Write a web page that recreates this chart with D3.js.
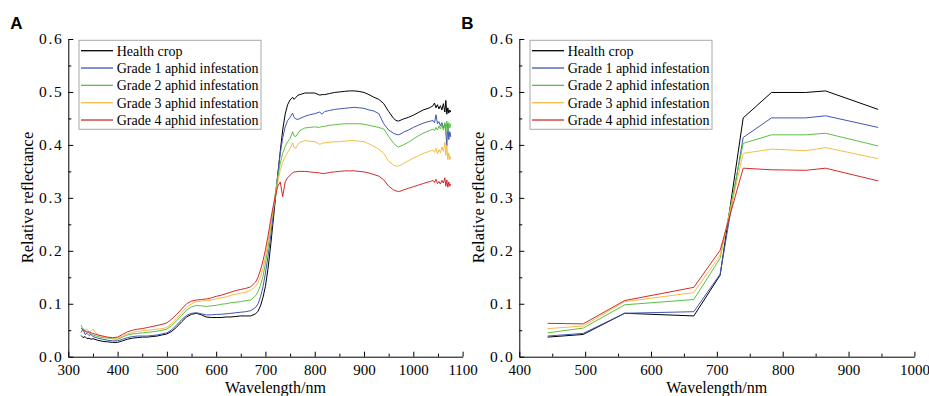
<!DOCTYPE html>
<html>
<head>
<meta charset="utf-8">
<script src="https://cdn.jsdelivr.net/npm/d3@7/dist/d3.min.js"></script>
<style>
  body { margin: 0; background: #fff; }
  svg text { font-family: "Liberation Serif", "Times New Roman", serif; }
</style>
</head>
<body>
<div id="canva"></div>
<script>
const seriesNames = ['Health crop', 'Grade 1 aphid infestation', 'Grade 2 aphid infestation',
                     'Grade 3 aphid infestation', 'Grade 4 aphid infestation'];
const seriesColors = ['#000000', '#3f57b0', '#5cbf43', '#f4bd4a', '#d42a2a'];

// panel A: full spectra
const wavelengthsA = [
    326, 330, 334, 338, 342, 346, 350,
    360, 370, 380, 390, 400, 410, 420, 430, 440, 450,
    460, 470, 480, 490, 500, 510, 520, 530, 540, 550,
    560, 570, 580, 590, 600, 610, 620, 630, 640, 650,
    660, 670, 680, 685, 690, 695, 700, 705, 710, 715,
    720, 725, 730, 735, 740, 745, 750, 755, 758, 762,
    766, 770, 780, 790, 800, 810, 815, 820, 830, 840,
    850, 860, 870, 880, 890, 900, 910, 920, 930, 940,
    950, 960, 965, 970, 975, 980, 990, 1000, 1010, 1020,
    1030, 1035, 1040, 1043, 1046, 1049, 1052, 1055, 1058, 1061,
    1064, 1066, 1068, 1070, 1072, 1074, 1076
];
const healthA = [
    .040, .036, .038, .034, .035, .033, .034,
    .031, .029, .028, .027, .027, .030, .033, .035, .036, .037,
    .037, .038, .039, .041, .043, .048, .056, .066, .075, .080,
    .082, .079, .075, .074, .074, .074, .075, .075, .076, .077,
    .077, .077, .081, .086, .096, .112, .133, .165, .205, .250,
    .296, .343, .388, .428, .458, .476, .485, .490, .486, .490,
    .494, .495, .498, .498, .498, .494, .495, .495, .497, .499,
    .500, .501, .502, .502, .501, .499, .495, .490, .486, .478,
    .463, .450, .446, .445, .447, .449, .452, .456, .461, .466,
    .469, .471, .474, .479, .470, .476, .468, .474, .466, .478,
    .462, .484, .458, .470, .460, .466, .462
];
const grade1A = [
    .046, .052, .042, .044, .040, .042, .038,
    .035, .033, .031, .030, .030, .033, .036, .038, .039, .039,
    .039, .040, .041, .043, .045, .051, .060, .070, .078, .082,
    .083, .081, .079, .079, .080, .080, .081, .082, .083, .084,
    .085, .087, .093, .100, .113, .132, .158, .188, .222, .262,
    .302, .345, .384, .413, .434, .446, .452, .460, .452, .449,
    .448, .450, .454, .457, .459, .462, .458, .463, .465, .467,
    .468, .469, .470, .471, .470, .469, .466, .464, .459, .440,
    .428, .422, .420, .419, .421, .424, .428, .433, .437, .441,
    .444, .445, .446, .442, .457, .440, .444, .436, .442, .432,
    .440, .425, .398, .440, .410, .425, .415
];
const grade2A = [
    .060, .050, .047, .048, .044, .043, .041,
    .038, .036, .035, .034, .033, .037, .041, .043, .044, .045,
    .046, .047, .048, .050, .052, .059, .068, .078, .088, .094,
    .097, .096, .095, .096, .097, .099, .100, .102, .103, .104,
    .106, .107, .115, .123, .135, .152, .176, .205, .239, .274,
    .308, .339, .365, .384, .397, .406, .412, .425, .417, .416,
    .422, .427, .432, .433, .434, .433, .435, .435, .437, .438,
    .439, .440, .440, .440, .440, .439, .437, .435, .433, .430,
    .416, .403, .399, .396, .398, .400, .405, .411, .417, .422,
    .426, .428, .430, .427, .433, .428, .436, .430, .438, .428,
    .442, .420, .445, .425, .442, .432, .440
];
const grade3A = [
    .057, .054, .050, .052, .046, .048, .052,
    .041, .038, .036, .035, .035, .039, .043, .046, .048, .049,
    .050, .051, .052, .053, .055, .063, .072, .083, .093, .100,
    .104, .105, .106, .107, .109, .111, .113, .116, .118, .120,
    .122, .125, .133, .140, .151, .167, .189, .215, .245, .274,
    .302, .329, .352, .367, .378, .386, .393, .404, .395, .394,
    .401, .405, .408, .407, .406, .401, .403, .404, .405, .406,
    .406, .407, .408, .408, .407, .406, .402, .397, .392, .384,
    .369, .362, .360, .360, .362, .365, .370, .375, .379, .384,
    .387, .389, .390, .386, .394, .383, .391, .385, .396, .388,
    .405, .380, .400, .372, .385, .372, .378
];
const grade4A = [
    .054, .050, .049, .046, .047, .045, .044,
    .041, .039, .037, .036, .037, .042, .047, .050, .052, .053,
    .055, .057, .059, .061, .064, .071, .080, .090, .100, .105,
    .107, .108, .109, .111, .114, .116, .119, .122, .125, .127,
    .129, .132, .141, .150, .164, .181, .202, .227, .255, .281,
    .303, .322, .330, .302, .330, .338, .343, .347, .349, .349,
    .350, .350, .350, .349, .348, .347, .346, .346, .348, .349,
    .350, .351, .351, .351, .350, .349, .347, .344, .341, .334,
    .322, .315, .313, .312, .313, .315, .318, .321, .324, .327,
    .330, .331, .333, .329, .335, .327, .331, .326, .333, .328,
    .338, .322, .334, .320, .330, .322, .326
];

// panel B: band values
const wavelengthsB = [443, 497, 560, 665, 705, 740, 783, 835, 865, 945];
const healthB = [.037, .042, .082, .077, .154, .451, .499, .499, .502, .467];
const grade1B = [.039, .044, .082, .085, .156, .414, .451, .451, .455, .433];
const grade2B = [.045, .054, .098, .108, .186, .403, .419, .419, .422, .398];
const grade3B = [.053, .058, .104, .121, .192, .384, .392, .389, .395, .374];
const grade4B = [.063, .062, .106, .131, .201, .356, .353, .352, .356, .332];

const yTicks = [0, 0.1, 0.2, 0.3, 0.4, 0.5, 0.6];
const yMinor = [0.05, 0.15, 0.25, 0.35, 0.45, 0.55];
const xTicksA = [300, 400, 500, 600, 700, 800, 900, 1000, 1100];
const xMinorA = [350, 450, 550, 650, 750, 850, 950, 1050];
const xTicksB = [400, 500, 600, 700, 800, 900, 1000];
const xMinorB = [450, 550, 650, 750, 850, 950];

const svg = d3.select('#canva').append('svg')
    .attr('width', 929)
    .attr('height', 396)
    .style('display', 'block');

function drawPanel(cfg) {
    const x = d3.scaleLinear().domain(cfg.xDomain).range([cfg.left, cfg.right]);
    const y = d3.scaleLinear().domain([0, 0.6]).range([356.7, 39]);
    const g = svg.append('g');

    // minor ticks first, then major axes on top
    const minorX = g.append('g')
        .attr('transform', `translate(0,${y(0)})`)
        .call(d3.axisBottom(x).tickValues(cfg.xMinor).tickSize(-3).tickFormat(''));
    minorX.select('.domain').remove();
    const minorY = g.append('g')
        .attr('transform', `translate(${cfg.left},0)`)
        .call(d3.axisLeft(y).tickValues(yMinor).tickSize(-3).tickFormat(''));
    minorY.select('.domain').remove();

    const xAxis = g.append('g')
        .attr('transform', `translate(0,${y(0)})`)
        .call(d3.axisBottom(x).tickValues(cfg.xTicks).tickSize(-5).tickSizeOuter(0).tickPadding(7.5)
              .tickFormat(d3.format('d')));
    xAxis.attr('font-family', null).attr('font-size', 15);

    const yAxis = g.append('g')
        .attr('transform', `translate(${cfg.left},0)`)
        .call(d3.axisLeft(y).tickValues(yTicks).tickSize(-5).tickSizeOuter(0).tickPadding(5)
              .tickFormat(d3.format('.1f')));
    yAxis.attr('font-family', null).attr('font-size', 15.5);
    yAxis.selectAll('text').attr('letter-spacing', '1.6px');

    g.selectAll('.domain, .tick line').attr('stroke', '#000');

    const line = d3.line()
        .x(d => x(d[0]))
        .y(d => y(d[1]));

    g.selectAll('.spectrum')
        .data(cfg.series)
        .enter()
        .append('path')
        .attr('class', 'spectrum')
        .attr('d', (vals) => line(d3.zip(cfg.wavelengths, vals)))
        .attr('fill', 'none')
        .attr('stroke', (d, i) => seriesColors[i])
        .attr('stroke-width', 1)
        .attr('stroke-linejoin', 'round');

    // legend
    const legend = g.append('g');
    legend.append('rect')
        .attr('x', cfg.legendX)
        .attr('y', 40.3)
        .attr('width', 182)
        .attr('height', 89)
        .attr('fill', '#fff')
        .attr('stroke', '#a8a8a8')
        .attr('stroke-width', 1);
    seriesNames.forEach((name, i) => {
        const cy = 50.7 + i * 17.33;
        legend.append('line')
            .attr('x1', cfg.legendX + 2).attr('x2', cfg.legendX + 34)
            .attr('y1', cy).attr('y2', cy)
            .attr('stroke', seriesColors[i])
            .attr('stroke-width', 1.3);
        legend.append('text')
            .attr('x', cfg.legendX + 37.7)
            .attr('y', cy + 5)
            .attr('font-size', 14)
            .text(name);
    });

    // titles
    g.append('text')
        .attr('x', cfg.xTitleX)
        .attr('y', 392.5)
        .attr('text-anchor', 'middle')
        .attr('font-size', 16)
        .text('Wavelength/nm');
    g.append('text')
        .attr('transform', `translate(${cfg.left - 35},197.5) rotate(-90)`)
        .attr('text-anchor', 'middle')
        .attr('font-size', 16.5)
        .text('Relative reflectance');
    g.append('text')
        .attr('x', cfg.left - 58)
        .attr('y', 29)
        .style('font-family', '"Liberation Sans", Arial, sans-serif')
        .attr('font-weight', 'bold')
        .attr('font-size', 17)
        .text(cfg.label);
}

drawPanel({
    label: 'A',
    xDomain: [300, 1100], left: 68.3, right: 462.6,
    xTicks: xTicksA, xMinor: xMinorA,
    wavelengths: wavelengthsA,
    series: [healthA, grade1A, grade2A, grade3A, grade4A],
    legendX: 79, xTitleX: 275.5
});

drawPanel({
    label: 'B',
    xDomain: [400, 1000], left: 519.3, right: 914.4,
    xTicks: xTicksB, xMinor: xMinorB,
    wavelengths: wavelengthsB,
    series: [healthB, grade1B, grade2B, grade3B, grade4B],
    legendX: 530, xTitleX: 716.7
});
</script>
</body>
</html>
